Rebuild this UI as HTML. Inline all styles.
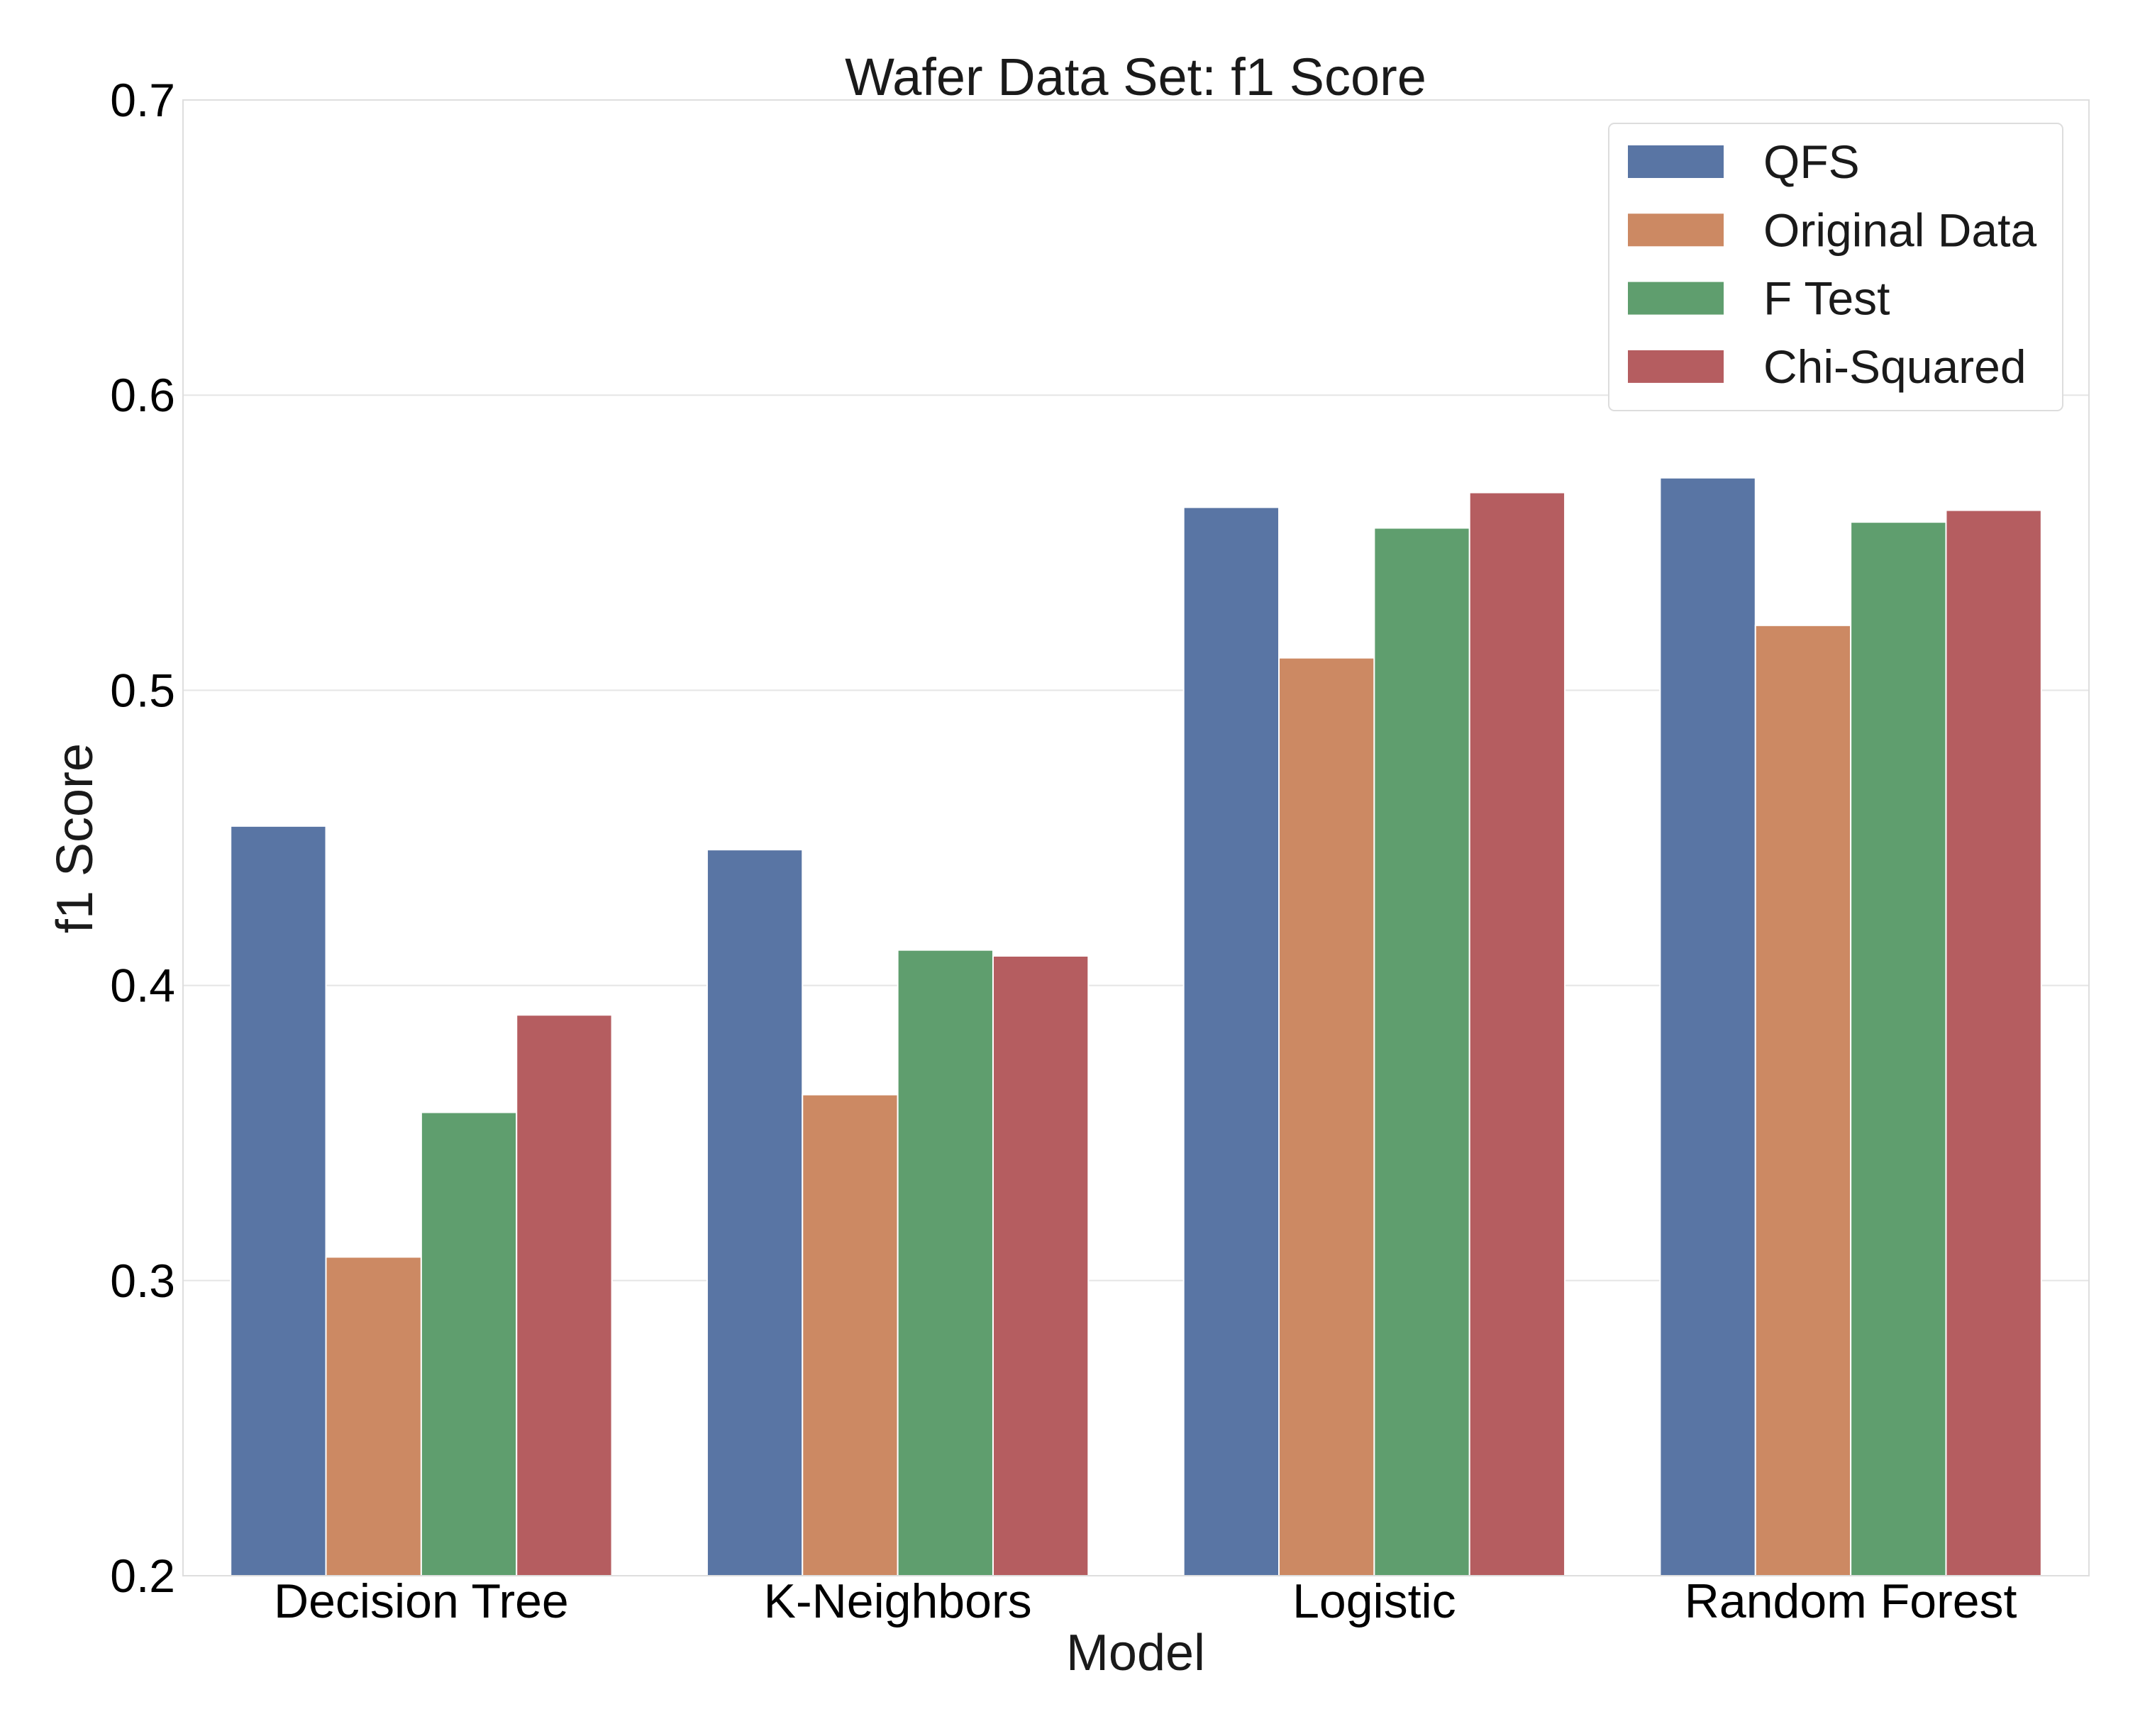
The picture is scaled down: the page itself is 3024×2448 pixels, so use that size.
<!DOCTYPE html>
<html><head><meta charset="utf-8"><style>
html,body{margin:0;padding:0;background:#fff;}
svg{display:block;font-family:"Liberation Sans",Arial,sans-serif;}
</style></head><body>
<svg id="chart" width="3024" height="2448" viewBox="0 0 3024 2448" xmlns="http://www.w3.org/2000/svg">
<rect x="0" y="0" width="3024" height="2448" fill="#fff"/>
<g id="grid"></g>
<g id="bars"></g>
<g id="axes"></g>
<text x="1601" y="134" font-size="74" text-anchor="middle" fill="#1a1a1a">Wafer Data Set: f1 Score</text>
<text x="1601" y="2355" font-size="72" text-anchor="middle" fill="#1a1a1a">Model</text>
<text transform="translate(130,1182) rotate(-90)" font-size="72" text-anchor="middle" fill="#1a1a1a">f1 Score</text>
<g id="legend">
<rect x="2268" y="174" width="640" height="405" rx="8" fill="#fff" stroke="#dddddd" stroke-width="2"/>
</g>
</svg>
<script>
const categories = ["Decision Tree", "K-Neighbors", "Logistic", "Random Forest"];
const seriesNames = ["QFS", "Original Data", "F Test", "Chi-Squared"];
const qfs = [0.454, 0.446, 0.562, 0.572];
const originalData = [0.308, 0.363, 0.511, 0.522];
const fTest = [0.357, 0.412, 0.555, 0.557];
const chiSquared = [0.390, 0.410, 0.567, 0.561];
const yTicks = [0.2, 0.3, 0.4, 0.5, 0.6, 0.7];
const yTickLabels = ["0.2", "0.3", "0.4", "0.5", "0.6", "0.7"];

const series = [qfs, originalData, fTest, chiSquared];
const colors = ["#5975a4", "#cc8963", "#5f9e6e", "#b55d60"];
const L = 258, R = 2945, T = 141, B = 2222;
const yMin = 0.2, yMax = 0.7;
const y = v => B - (v - yMin) / (yMax - yMin) * (B - T);
const band = (R - L) / categories.length;
const xc = i => L + band * (i + 0.5);
const groupW = band * 0.8, barW = groupW / series.length;
const NS = "http://www.w3.org/2000/svg";
function mk(tag, attrs, parent, txt) {
  const e = document.createElementNS(NS, tag);
  for (const k in attrs) e.setAttribute(k, attrs[k]);
  if (txt !== undefined) e.textContent = txt;
  parent.appendChild(e);
  return e;
}
const grid = document.getElementById('grid');
const axes = document.getElementById('axes');
const barsG = document.getElementById('bars');
yTicks.forEach((t, i) => {
  const gl = mk('line', {x1: L, x2: R, y1: y(t), y2: y(t), stroke: '#e5e5e5', 'stroke-width': 2}, grid);
  
  
  const tl = mk('text', {x: 247, y: y(t) + 23, 'font-size': 66, 'text-anchor': 'end', fill: '#000'}, axes, yTickLabels[i]);
  
  
});
series.forEach((vals, s) => {
  vals.forEach((v, i) => {
    const x0 = xc(i) - groupW / 2 + s * barW;
    const r = mk('rect', {x: x0, y: y(v), width: barW, height: B - y(v), fill: colors[s], stroke: '#fff', 'stroke-width': 2}, barsG);
    
    
  });
});
const frame = mk('rect', {x: L, y: T, width: R - L, height: B - T, fill: 'none', stroke: '#dedede', 'stroke-width': 2}, axes);


categories.forEach((c, i) => {
  const t = mk('text', {x: xc(i), y: 2281, 'font-size': 68, 'text-anchor': 'middle', fill: '#000'}, axes, c);
  
  
});
const leg = document.getElementById('legend');
seriesNames.forEach((n, s) => {
  const cy = 228 + s * 96.3;
  const sw = mk('rect', {x: 2295, y: cy - 23, width: 135, height: 46, fill: colors[s]}, leg);
  
  
  const lt = mk('text', {x: 2486, y: cy + 23, 'font-size': 66, fill: '#1a1a1a'}, leg, n);
  
  
});
</script>
</body></html>
